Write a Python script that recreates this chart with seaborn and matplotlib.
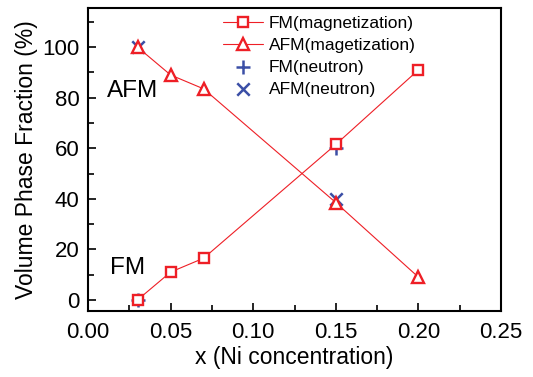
import matplotlib
matplotlib.use("Agg")
import matplotlib.pyplot as plt
import seaborn as sns
import pandas as pd
from matplotlib.ticker import MultipleLocator, FormatStrFormatter

x_mag = [0.03, 0.05, 0.07, 0.15, 0.20]
fm_mag = [0, 11, 16.5, 61.5, 91]
afm_mag = [100, 89, 83.5, 38.5, 9]
x_neu = [0.03, 0.15]
fm_neu = [0, 60]
afm_neu = [100, 40]

sns.set_theme(style="ticks")
plt.rcParams['font.family'] = ['Liberation Sans', 'DejaVu Sans']
plt.rcParams.update({"text.color": "black", "axes.labelcolor": "black",
                     "xtick.color": "black", "ytick.color": "black",
                     "axes.edgecolor": "black"})

red = "#ee1f26"
blue = "#3b4fa6"

fig = plt.figure(figsize=(5.33, 3.77), dpi=100)
ax = fig.add_axes([88/533, 1-311/377, 413/533, 303/377])

df_mag = pd.DataFrame({"x": x_mag, "fm": fm_mag, "afm": afm_mag})
df_neu = pd.DataFrame({"x": x_neu, "fm": fm_neu, "afm": afm_neu})

sns.lineplot(data=df_mag, x="x", y="fm", ax=ax, color=red, lw=0.8, marker="s",
             markersize=7, markerfacecolor="white", markeredgecolor=red, markeredgewidth=1.7,
             label="FM(magnetization)")
sns.lineplot(data=df_mag, x="x", y="afm", ax=ax, color=red, lw=0.8, marker="^",
             markersize=8, markerfacecolor="white", markeredgecolor=red, markeredgewidth=1.7,
             label="AFM(magetization)")
sns.scatterplot(data=df_neu, x="x", y="fm", ax=ax, marker="+", s=90, color=blue,
                linewidth=1.8, label="FM(neutron)")
sns.scatterplot(data=df_neu, x="x", y="afm", ax=ax, marker="x", s=80, color=blue,
                linewidth=1.8, label="AFM(neutron)")

ax.set_xlim(0, 0.25)
ax.set_ylim(-4.4, 115.5)
ax.xaxis.set_major_locator(MultipleLocator(0.05))
ax.xaxis.set_minor_locator(MultipleLocator(0.025))
ax.yaxis.set_major_locator(MultipleLocator(20))
ax.yaxis.set_minor_locator(MultipleLocator(10))
ax.xaxis.set_major_formatter(FormatStrFormatter("%.2f"))
ax.tick_params(which="major", direction="in", length=6, width=1.2, labelsize=16, pad=6,
               color="black", labelcolor="black")
ax.tick_params(axis="x", which="major", pad=8)
ax.tick_params(which="minor", direction="in", length=4, width=1.2, color="black")
for s in ax.spines.values():
    s.set_linewidth(1.5)
    s.set_color("black")
    s.set_visible(True)

ax.set_xlabel("x (Ni concentration)", fontsize=16.5, labelpad=2, color="black")
ax.set_ylabel("Volume Phase Fraction (%)", fontsize=16.5, labelpad=3, color="black")

ax.text(0.0115, 80.3, "AFM", fontsize=17.5, va="baseline", color="black")
ax.text(0.0135, 10.3, "FM", fontsize=17.5, va="baseline", color="black")

leg = ax.legend(loc="upper left", bbox_to_anchor=(0.327, 0.975), frameon=False, fontsize=12.5,
                handlelength=2.3, labelspacing=0.4, handletextpad=0.35, borderaxespad=0,
                borderpad=0)
for t in leg.get_texts():
    t.set_color("black")

fig.savefig("out.png", dpi=100)
